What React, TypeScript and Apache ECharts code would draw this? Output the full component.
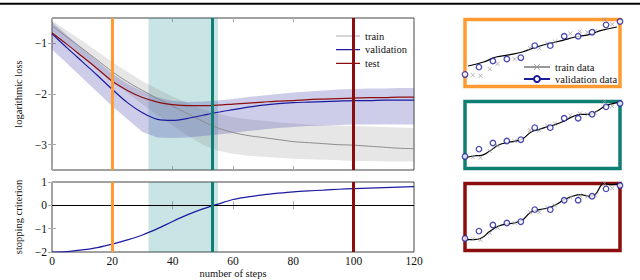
import React, { useEffect, useRef } from 'react';
import * as echarts from 'echarts';

// ---- main loss plot ----
const steps = [0, 5, 10, 15, 20, 25, 30, 35, 40, 45, 50, 55, 60, 65, 70, 75, 80, 85, 90, 95, 100, 105, 110, 115, 120];
const trainLoss = [-0.65, -0.88, -1.1, -1.33, -1.56, -1.76, -1.93, -2.09, -2.24, -2.39, -2.54, -2.67, -2.76, -2.82, -2.86, -2.9, -2.94, -2.96, -2.98, -3.0, -3.01, -3.03, -3.05, -3.07, -3.08];
const validationLoss = [-0.81, -1.09, -1.36, -1.63, -1.91, -2.17, -2.37, -2.5, -2.52, -2.48, -2.42, -2.36, -2.31, -2.26, -2.22, -2.19, -2.17, -2.16, -2.15, -2.14, -2.13, -2.13, -2.12, -2.12, -2.12];
const testLoss = [-0.79, -1.02, -1.26, -1.5, -1.75, -1.93, -2.07, -2.16, -2.21, -2.23, -2.23, -2.22, -2.2, -2.18, -2.16, -2.14, -2.13, -2.11, -2.1, -2.09, -2.08, -2.07, -2.07, -2.06, -2.06];
const validationUpper = [-0.58, -0.84, -1.1, -1.35, -1.6, -1.8, -1.95, -2.07, -2.14, -2.16, -2.15, -2.13, -2.1, -2.06, -2.03, -2.0, -1.97, -1.95, -1.93, -1.91, -1.9, -1.89, -1.89, -1.88, -1.88];
const validationLower = [-1.12, -1.4, -1.68, -1.96, -2.24, -2.5, -2.75, -2.86, -2.87, -2.86, -2.83, -2.8, -2.77, -2.73, -2.7, -2.67, -2.65, -2.63, -2.62, -2.61, -2.6, -2.6, -2.6, -2.6, -2.6];
const trainUpper = [-0.55, -0.75, -0.95, -1.16, -1.37, -1.56, -1.75, -1.9, -2.05, -2.18, -2.3, -2.39, -2.46, -2.5, -2.53, -2.56, -2.58, -2.6, -2.61, -2.62, -2.63, -2.64, -2.65, -2.66, -2.67];
const trainLower = [-0.75, -1.0, -1.25, -1.5, -1.75, -1.98, -2.2, -2.42, -2.62, -2.82, -3.0, -3.12, -3.18, -3.22, -3.24, -3.26, -3.28, -3.29, -3.3, -3.31, -3.32, -3.32, -3.33, -3.33, -3.33];
const lossTicks = [-3, -2, -1];

// ---- stopping criterion ----
const criterion = [-2.0, -1.98, -1.91, -1.81, -1.66, -1.48, -1.27, -1.0, -0.69, -0.4, -0.15, 0.05, 0.25, 0.36, 0.45, 0.52, 0.58, 0.62, 0.65, 0.69, 0.72, 0.74, 0.76, 0.78, 0.8];

// ---- markers ----
const markerSteps = [20, 53, 100];
const stopRegion = [32, 55];

// ---- side panels ----
const validX = [0, 0.09, 0.18, 0.27, 0.36, 0.45, 0.55, 0.64, 0.73, 0.82, 0.91, 1.0];
const validY = [0.18, 0.29, 0.38, 0.41, 0.43, 0.61, 0.61, 0.75, 0.75, 0.81, 0.92, 0.97];
const trainX = [0, 0.05, 0.1, 0.16, 0.21, 0.32, 0.42, 0.48, 0.53, 0.58, 0.68, 0.74, 0.79, 0.84, 0.9, 0.95, 1.0];
const trainY = [0.15, 0.17, 0.16, 0.26, 0.34, 0.41, 0.57, 0.57, 0.64, 0.67, 0.79, 0.82, 0.81, 0.83, 1.0, 0.93, 0.99];
const fitEarlyX = [0.02, 0.12, 0.2, 0.29, 0.37, 0.46, 0.54, 0.63, 0.71, 0.8, 0.88, 0.98];
const fitEarlyY = [0.306, 0.366, 0.44, 0.475, 0.515, 0.59, 0.64, 0.689, 0.739, 0.774, 0.838, 0.888];
const fitStopX = [0, 0.053, 0.107, 0.16, 0.213, 0.267, 0.32, 0.373, 0.426, 0.48, 0.533, 0.586, 0.64, 0.693, 0.746, 0.8, 0.853, 0.906, 0.96, 1.0];
const fitStopY = [0.162, 0.187, 0.197, 0.261, 0.346, 0.386, 0.406, 0.445, 0.545, 0.585, 0.624, 0.659, 0.709, 0.774, 0.809, 0.809, 0.858, 0.933, 0.973, 0.993];
const fitLateX = [0, 0.053, 0.107, 0.16, 0.213, 0.267, 0.32, 0.373, 0.426, 0.48, 0.533, 0.586, 0.64, 0.693, 0.746, 0.8, 0.84, 0.896, 0.949, 1.0];
const fitLateY = [0.162, 0.162, 0.187, 0.286, 0.361, 0.396, 0.41, 0.46, 0.575, 0.609, 0.634, 0.684, 0.759, 0.809, 0.833, 0.809, 0.833, 0.998, 0.983, 0.993];

const ORANGE = '#ff9a33';
const TEAL = '#0f7f74';
const DARKRED = '#8b0e0e';
const BLUE = '#1b1ba0';
const GRAY = '#8c8c8c';
const FONT = 'Liberation Serif';

const zip = (xs: number[], ys: number[]) => xs.map((x, i) => [x, ys[i]]);
const minus = (v: number) => (v < 0 ? '\u2212' + Math.abs(v) : String(v));
const CROSS = 'path://M0,1L1,0L5,4L9,0L10,1L6,5L10,9L9,10L5,6L1,10L0,9L4,5Z';
// a horizontal line icon: tiny corner specks fix the bounding box so the bar stays thin
const LINE_ICON = 'path://M0,0L0.01,0L0,0.01Z M0,5.4L24,5.4L24,6.6L0,6.6Z M24,12L23.99,12L24,11.99Z';

function bandSeries(upper: number[], lower: number[], fill: string, z: number) {
  return {
    type: 'custom',
    xAxisIndex: 0,
    yAxisIndex: 0,
    silent: true,
    z,
    data: [0],
    renderItem: (_p: any, api: any) => {
      const pts: number[][] = [];
      for (let i = 0; i < steps.length; i++) pts.push(api.coord([steps[i], upper[i]]));
      for (let i = steps.length - 1; i >= 0; i--) pts.push(api.coord([steps[i], lower[i]]));
      return { type: 'polygon', shape: { points: pts }, style: { fill } };
    },
  };
}

const tickStyle = { show: true, inside: true, length: 4, lineStyle: { color: '#aaa', width: 1 } };

function mainX(grid: number, pos: string, labels: boolean, extra: any = {}) {
  return {
    type: 'value', gridIndex: grid, position: pos, min: 0, max: 120, interval: 20,
    axisLine: { show: false }, splitLine: { show: false },
    axisTick: tickStyle,
    axisLabel: { show: labels, fontFamily: FONT, fontSize: 11.5, color: '#111', margin: 3 },
    ...extra,
  };
}

function panelAxes(grid: number) {
  return {
    x: { type: 'value', gridIndex: grid, min: 0, max: 1, show: false },
    y: { type: 'value', gridIndex: grid, min: 0, max: 1, show: false },
  };
}

function panelSeries(idx: number, fx: number[], fy: number[]) {
  return [
    {
      type: 'line', name: 'fit' + idx, xAxisIndex: idx, yAxisIndex: idx, smooth: 0.4, symbol: 'none',
      data: zip(fx, fy), lineStyle: { color: '#000', width: 1.2 }, z: 3, clip: false,
    },
    {
      type: 'scatter', name: 'tr' + idx, xAxisIndex: idx, yAxisIndex: idx, symbol: CROSS, symbolSize: 4.5,
      data: zip(trainX, trainY), itemStyle: { color: '#999' }, z: 4, clip: false,
    },
    {
      type: 'scatter', name: 'va' + idx, xAxisIndex: idx, yAxisIndex: idx, symbol: 'circle', symbolSize: 5.5,
      data: zip(validX, validY), itemStyle: { color: '#fff', borderColor: BLUE, borderWidth: 1.3 }, z: 5, clip: false,
    },
  ];
}

export default function App() {
  const ref = useRef<HTMLDivElement>(null);
  useEffect(() => {
    document.body.style.margin = '0';
    const chart = echarts.init(ref.current!, null, { renderer: 'svg' });
    const p4 = panelAxes(2), p5 = panelAxes(3), p6 = panelAxes(4);
    const vlines = (grid: number, xi: number, yi: number) => ({
      type: 'line', name: 'vl' + grid, xAxisIndex: xi, yAxisIndex: yi, data: [], z: 8,
      markLine: {
        silent: true, symbol: ['none', 'none'], label: { show: false },
        data: [
          { xAxis: markerSteps[0], lineStyle: { color: ORANGE, width: 3, type: 'solid' } },
          { xAxis: markerSteps[1], lineStyle: { color: TEAL, width: 3, type: 'solid' } },
          { xAxis: markerSteps[2], lineStyle: { color: DARKRED, width: 3, type: 'solid' } },
        ],
      },
    });
    const region = (grid: number, xi: number, yi: number) => ({
      type: 'line', name: 'rg' + grid, xAxisIndex: xi, yAxisIndex: yi, data: [], z: 0,
      markArea: {
        silent: true,
        itemStyle: { color: 'rgba(0,128,128,0.21)' },
        data: [[{ xAxis: stopRegion[0] }, { xAxis: stopRegion[1] }]],
      },
    });
    chart.setOption({
      animation: false,
      textStyle: { fontFamily: FONT },
      graphic: [
        { type: 'line', shape: { x1: 0, y1: 3.7, x2: 640, y2: 3.7 }, style: { stroke: '#000', lineWidth: 2 } },
      ],
      legend: [
        {
          data: [
            { name: 'train', icon: LINE_ICON },
            { name: 'validation', icon: LINE_ICON },
            { name: 'test', icon: LINE_ICON },
          ],
          orient: 'vertical', left: 331, top: 25,
          itemWidth: 24, itemHeight: 12, itemGap: 1.7,
          textStyle: { fontFamily: FONT, fontSize: 10.5, color: '#111', lineHeight: 12 },
        },
        {
          data: ['train data', 'validation data'], orient: 'vertical', left: 518, top: 56,
          itemWidth: 26, itemHeight: 7.5, itemGap: 0,
          textStyle: { fontFamily: FONT, fontSize: 10.5, color: '#111', lineHeight: 12 },
        },
      ],
      grid: [
        { left: 52, top: 18, width: 362, height: 152, show: true, borderColor: '#444', borderWidth: 1, backgroundColor: 'transparent' },
        { left: 52, top: 182, width: 362, height: 70.5, show: true, borderColor: '#444', borderWidth: 1, backgroundColor: 'transparent' },
        { left: 465, top: 19.5, width: 155, height: 67, show: true, borderColor: ORANGE, borderWidth: 3.5, backgroundColor: 'transparent' },
        { left: 465, top: 101.5, width: 155, height: 67, show: true, borderColor: TEAL, borderWidth: 3.5, backgroundColor: 'transparent' },
        { left: 465, top: 183.5, width: 155, height: 67, show: true, borderColor: DARKRED, borderWidth: 3.5, backgroundColor: 'transparent' },
      ],
      xAxis: [
        mainX(0, 'bottom', false),
        mainX(1, 'bottom', true, {
          name: 'number of steps', nameLocation: 'middle', nameGap: 16,
          nameTextStyle: { fontFamily: FONT, fontSize: 10.5, color: '#111' },
        }),
        p4.x, p5.x, p6.x,
        mainX(0, 'top', false),
        mainX(1, 'top', false),
      ],
      yAxis: [
        {
          type: 'value', gridIndex: 0, min: -3.5, max: -0.5,
          axisLine: { show: false }, splitLine: { show: false },
          axisTick: { ...tickStyle, customValues: lossTicks },
          axisLabel: { customValues: lossTicks, formatter: minus, fontFamily: FONT, fontSize: 11.5, color: '#111', margin: 5 },
          name: 'logarithmic loss', nameLocation: 'middle', nameGap: 27, nameRotate: 90,
          nameTextStyle: { fontFamily: FONT, fontSize: 10.5, color: '#111' },
        },
        {
          type: 'value', gridIndex: 1, min: -2, max: 1, interval: 1,
          axisLine: { show: false }, splitLine: { show: false },
          axisTick: tickStyle,
          axisLabel: { formatter: minus, fontFamily: FONT, fontSize: 11.5, color: '#111', margin: 5 },
          name: 'stopping criterion', nameLocation: 'middle', nameGap: 27, nameRotate: 90,
          nameTextStyle: { fontFamily: FONT, fontSize: 10.5, color: '#111' },
        },
        p4.y, p5.y, p6.y,
        {
          type: 'value', gridIndex: 0, position: 'right', min: -3.5, max: -0.5,
          axisLine: { show: false }, splitLine: { show: false },
          axisTick: { ...tickStyle, customValues: lossTicks }, axisLabel: { show: false },
        },
        {
          type: 'value', gridIndex: 1, position: 'right', min: -2, max: 1, interval: 1,
          axisLine: { show: false }, splitLine: { show: false },
          axisTick: tickStyle, axisLabel: { show: false },
        },
      ],
      series: [
        region(0, 0, 0),
        region(1, 1, 1),
        bandSeries(trainUpper, trainLower, 'rgba(128,128,128,0.2)', 1),
        bandSeries(validationUpper, validationLower, 'rgba(60,60,175,0.26)', 1),
        {
          type: 'line', name: 'train', xAxisIndex: 0, yAxisIndex: 0, smooth: 0.3, symbol: 'none',
          data: zip(steps, trainLoss), lineStyle: { color: GRAY, width: 1 }, itemStyle: { color: '#aaa' }, z: 3,
        },
        {
          type: 'line', name: 'validation', xAxisIndex: 0, yAxisIndex: 0, smooth: 0.3, symbol: 'none',
          data: zip(steps, validationLoss), lineStyle: { color: BLUE, width: 1.2 }, itemStyle: { color: BLUE }, z: 3,
        },
        {
          type: 'line', name: 'test', xAxisIndex: 0, yAxisIndex: 0, smooth: 0.3, symbol: 'none',
          data: zip(steps, testLoss), lineStyle: { color: DARKRED, width: 1.2 }, itemStyle: { color: DARKRED }, z: 3,
        },
        {
          type: 'line', name: 'criterion', xAxisIndex: 1, yAxisIndex: 1, smooth: 0.3, symbol: 'none',
          data: zip(steps, criterion), lineStyle: { color: BLUE, width: 1.2 }, z: 3,
          markLine: {
            silent: true, symbol: ['none', 'none'], label: { show: false },
            lineStyle: { color: '#000', width: 1.2, type: 'solid' },
            data: [{ yAxis: 0 }],
          },
        },
        vlines(0, 0, 0),
        vlines(1, 1, 1),
        ...panelSeries(2, fitEarlyX, fitEarlyY),
        ...panelSeries(3, fitStopX, fitStopY),
        ...panelSeries(4, fitLateX, fitLateY),
        {
          type: 'line', name: 'train data', xAxisIndex: 2, yAxisIndex: 2, data: [], symbol: CROSS, symbolSize: 5,
          itemStyle: { color: '#999' }, lineStyle: { color: '#999', width: 1 },
        },
        {
          type: 'line', name: 'validation data', xAxisIndex: 2, yAxisIndex: 2, data: [], symbol: 'circle', symbolSize: 5,
          itemStyle: { color: '#fff', borderColor: BLUE, borderWidth: 1.3 }, lineStyle: { color: BLUE, width: 1.2 },
        },
      ],
    });
    return () => chart.dispose();
  }, []);
  return <div ref={ref} style={{ width: 640, height: 280 }} />;
}
